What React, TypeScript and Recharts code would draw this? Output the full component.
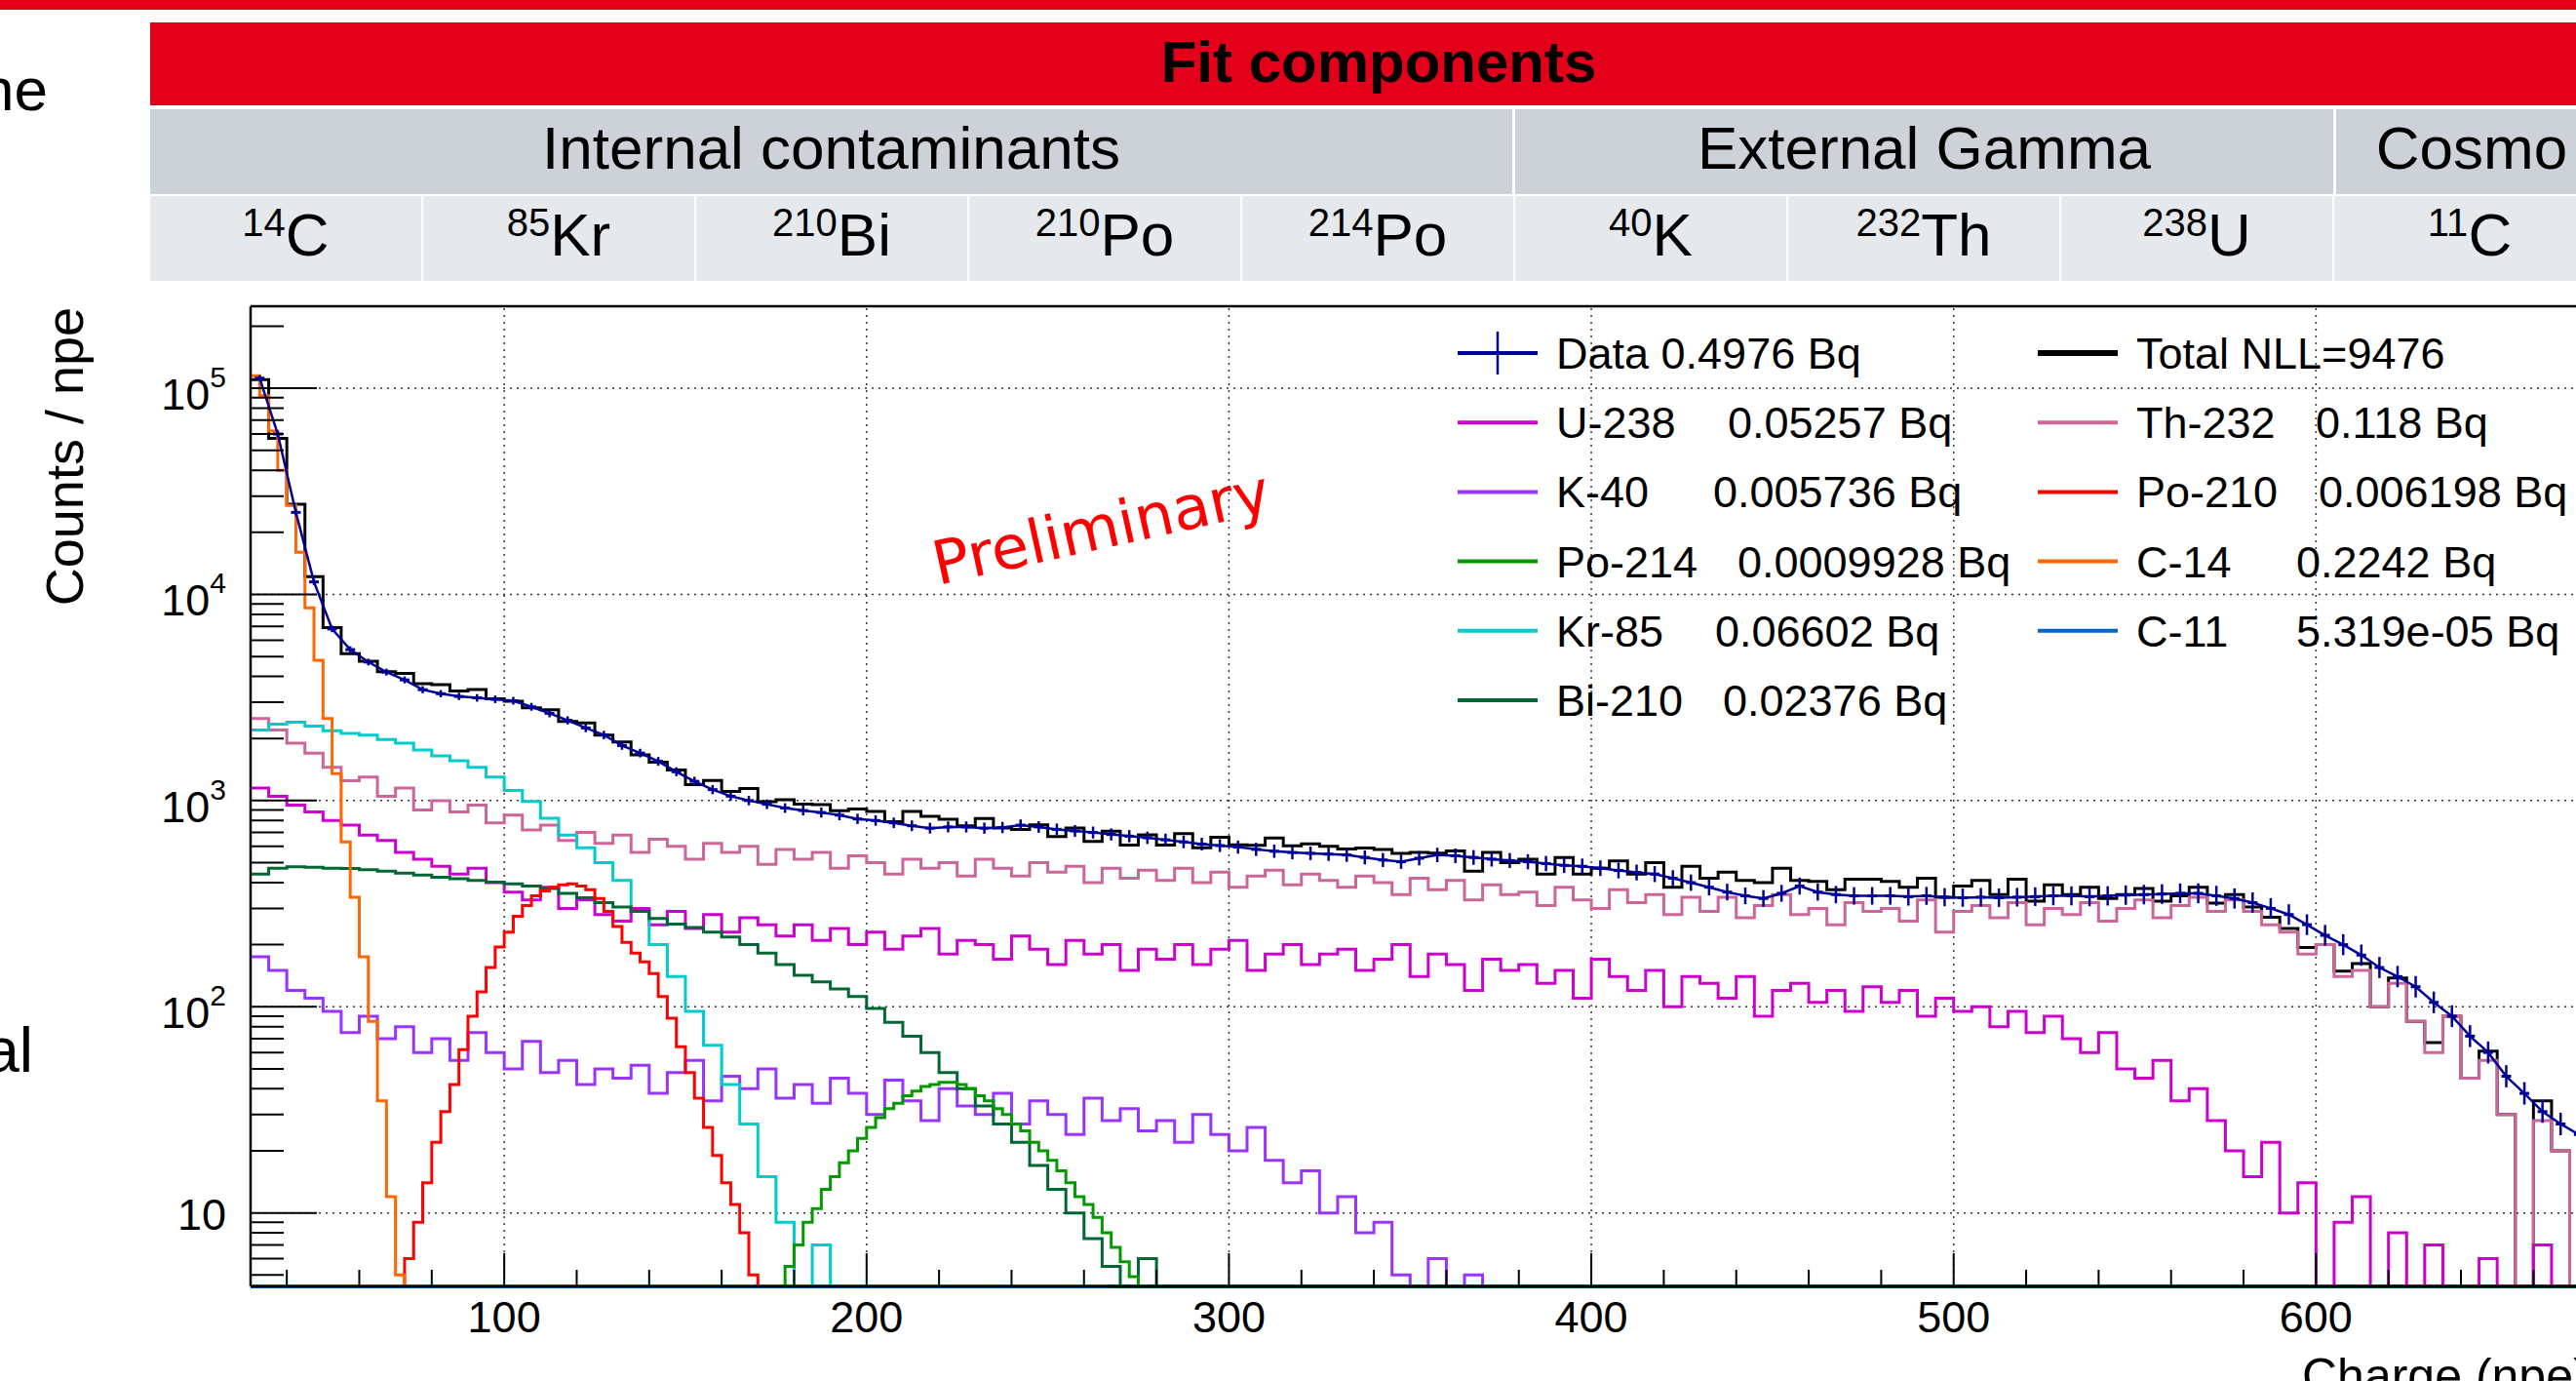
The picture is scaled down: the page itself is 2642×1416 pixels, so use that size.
import React from 'react';
import {
  ComposedChart,
  Line,
  XAxis,
  YAxis,
  ReferenceLine,
  Legend,
  Customized,
} from 'recharts';

const FONT = '"Liberation Sans", Arial, Helvetica, sans-serif';
const RED = '#E3001B';

// axis ranges: charge in npe (x), counts / npe on a log scale (y)
const X_MIN = 30;
const X_MAX = 700;
const Y_MIN = 4.4;
const Y_MAX = 250000;
const BIN = 5;
const FINE_BIN = 2.5;
const EMPTY = 0.5; // empty bins fall below the frame, like ROOT does on log y

const xGrid = [100, 200, 300, 400, 500, 600];
const yGrid = [10, 100, 1000, 10000, 100000];
const xTicks = [
  40, 60, 80, 100, 120, 140, 160, 180, 200, 220, 240, 260, 280, 300, 320, 340, 360,
  380, 400, 420, 440, 460, 480, 500, 520, 540, 560, 580, 600, 620, 640, 660, 680, 700,
];
const yTicks = [
  5, 6, 7, 8, 9, 10, 20, 30, 40, 50, 60, 70, 80, 90, 100, 200, 300, 400, 500, 600, 700,
  800, 900, 1000, 2000, 3000, 4000, 5000, 6000, 7000, 8000, 9000, 10000, 20000, 30000,
  40000, 50000, 60000, 70000, 80000, 90000, 100000, 200000,
];
const yExponent: Record<number, string> = { 100: '2', 1000: '3', 10000: '4', 100000: '5' };

// 5 npe bins starting at 30 npe
const dataCounts = [
  112000, 60000, 25000, 11500, 6800, 5400, 4700, 4200, 3850, 3450,
  3300, 3200, 3150, 3100, 3050, 2850, 2650, 2450, 2250, 2080,
  1850, 1700, 1550, 1380, 1240, 1130, 1050, 1000, 960, 920,
  895, 875, 850, 815, 800, 780, 755, 735, 745, 745,
  735, 740, 760, 745, 725, 712, 700, 685, 672, 660,
  645, 630, 615, 605, 595, 580, 568, 560, 555, 550,
  545, 530, 515, 505, 525, 545, 540, 530, 520, 512,
  505, 495, 485, 480, 470, 458, 448, 440, 420, 400,
  380, 360, 345, 335, 355, 385, 360, 350, 345, 345,
  345, 342, 345, 340, 338, 340, 338, 340, 342, 345,
  345, 342, 345, 348, 350, 352, 355, 355, 345, 335,
  320, 300, 280, 250, 222, 200, 178, 155, 140, 125,
  105, 90, 72, 60, 46, 38, 31, 27, 24, 20,
  16, 13, 10, 8,
];

const totalCounts = [
  110000, 57200, 27400, 12200, 6900, 5160, 4740, 4220, 4140, 3690,
  3650, 3400, 3460, 3120, 3030, 2820, 2760, 2420, 2380, 2080,
  1925, 1666, 1534, 1406, 1194, 1252, 1108, 1143, 987, 1010,
  962, 955, 893, 911, 885, 791, 885, 839, 811, 754,
  819, 736, 725, 763, 670, 737, 633, 710, 609, 682,
  608, 692, 590, 664, 610, 606, 658, 604, 616, 600,
  582, 588, 579, 555, 560, 556, 570, 455, 560, 500,
  520, 440, 530, 440, 470, 510, 440, 500, 380, 480,
  420, 450, 410, 400, 470, 410, 405, 370, 415, 415,
  405, 380, 420, 340, 385, 410, 350, 415, 325, 390,
  350, 380, 335, 350, 375, 325, 345, 380, 318, 350,
  305, 272, 240, 194, 200, 149, 162, 100, 138, 85,
  67, 90, 45, 61, 30, 2, 35, 20, 2, 14,
  10, 4, 8, 6,
];

const th232Counts = [
  2500, 2200, 1900, 1700, 1450, 1250, 1300, 1050, 1150, 900,
  1000, 880, 950, 780, 850, 720, 760, 640, 700, 620,
  680, 560, 650, 600, 520, 620, 560, 600, 490, 580,
  520, 560, 470, 540, 500, 440, 520, 470, 500, 430,
  520, 470, 430, 500, 450, 480, 400, 470, 420, 460,
  410, 470, 400, 450, 380, 430, 460, 390, 440, 410,
  380, 430, 400, 350, 420, 370, 410, 330, 390, 350,
  360, 310, 380, 330, 300, 370, 320, 350, 280, 340,
  290, 340, 270, 310, 350, 280, 300, 250, 320, 290,
  300, 260, 330, 230, 290, 310, 270, 320, 250, 300,
  280, 320, 260, 300, 330, 270, 310, 340, 290, 330,
  290, 250, 230, 180, 200, 140, 150, 100, 130, 85,
  60, 90, 45, 55, 30, 0, 28, 20, 0, 14,
  10, 4, 8, 6,
];

const u238Counts = [
  1150, 1050, 950, 880, 800, 760, 680, 640, 560, 520,
  480, 440, 470, 400, 360, 330, 380, 300, 330, 280,
  260, 300, 250, 290, 240, 280, 230, 270, 250, 220,
  250, 210, 240, 200, 230, 190, 220, 240, 180, 210,
  200, 170, 220, 190, 160, 210, 180, 200, 150, 190,
  170, 200, 160, 190, 210, 150, 180, 200, 160, 180,
  190, 150, 170, 200, 140, 180, 160, 120, 170, 150,
  160, 130, 150, 110, 170, 140, 120, 150, 100, 140,
  130, 110, 140, 90, 120, 130, 105, 120, 95, 125,
  105, 120, 90, 110, 95, 100, 80, 95, 75, 90,
  70, 60, 75, 50, 45, 55, 35, 40, 28, 20,
  15, 22, 10, 14, 0, 9, 12, 0, 8, 0,
  7, 0, 0, 6, 0, 0, 7, 0, 0, 0,
  0, 0, 0, 0,
];

const k40Counts = [
  175, 150, 120, 110, 95, 75, 90, 70, 80, 60,
  70, 55, 75, 60, 50, 68, 48, 55, 42, 50,
  45, 52, 38, 48, 55, 35, 46, 40, 50, 36,
  42, 34, 45, 38, 30, 44, 35, 28, 40, 33,
  30, 38, 27, 35, 30, 24, 36, 28, 32, 25,
  28, 22, 30, 24, 20, 26, 18, 14, 16, 10,
  12, 8, 9, 5, 0, 6, 0, 5, 0, 0,
];

const kr85Counts = [
  2200, 2350, 2400, 2300, 2180, 2120, 2080, 1980, 1900, 1760,
  1650, 1560, 1450, 1300, 1120, 990, 820, 680, 590, 500,
  410, 290, 200, 140, 95, 65, 42, 27, 15, 9,
  0, 7, 0,
];

const bi210Counts = [
  440, 470, 478, 475, 470, 468, 462, 455, 445, 435,
  425, 418, 410, 402, 395, 385, 375, 355, 338, 320,
  305, 290, 268, 252, 242, 230, 218, 200, 182, 160,
  142, 132, 122, 112, 98, 84, 72, 60, 48, 40,
  33, 27, 22, 17, 13, 10, 7.5, 5.5, 0, 6,
  0,
];

// 2.5 npe bins
const c14Counts = [
  115000, 92000, 62000, 40000, 27000, 16000, 8600, 4800, 2500, 1350,
  630, 340, 175, 85, 35, 12, 5, 0,
];
const po210Counts = [
  2, 6, 9, 14, 22, 31, 42, 62, 90, 118,
  155, 195, 230, 275, 310, 345, 365, 380, 390, 395,
  385, 370, 335, 290, 245, 205, 182, 165, 145, 112,
  88, 64, 48, 36, 26, 19, 14, 11, 8, 5, 0,
];
const po214Counts = [
  0, 5.5, 7, 9, 10.5, 13, 15, 17.5, 20, 23,
  26, 29, 32, 34, 37, 39, 41, 42, 43, 43,
  42, 40, 37, 35, 32, 30, 27, 25, 22, 20,
  18, 16, 14, 12, 11, 9.5, 8, 6.8, 5.8, 4.9, 0,
];

const legendLabels = ['Data 0.4976 Bq', 'Total NLL=9476', 'U-238', 'Th-232', 'K-40', 'Po-210', 'Po-214', 'C-14', 'Kr-85', 'C-11', 'Bi-210'];
const legendValues = ['', '', '0.05257 Bq', '0.118 Bq', '0.005736 Bq', '0.006198 Bq', '0.0009928 Bq', '0.2242 Bq', '0.06602 Bq', '5.319e-05 Bq', '0.02376 Bq'];
const legendColors = ['#000099', '#000000', '#CC00CC', '#CC6699', '#9933FF', '#FF0000', '#009900', '#FF6600', '#00CCCC', '#0066CC', '#006633'];
const legendValueX = [0, 0, 292, 895, 277, 898, 302, 875, 279, 875, 287];

const groupNames = ['Internal contaminants', 'External Gamma', 'Cosmo'];
const nuclideMass = ['14', '85', '210', '210', '214', '40', '232', '238', '11'];
const nuclideSymbol = ['C', 'Kr', 'Bi', 'Po', 'Po', 'K', 'Th', 'U', 'C'];

const toHist = (start: number, width: number, counts: number[]) => {
  const pts = counts.map((c, i) => ({ x: start + i * width, y: c > 0 ? c : EMPTY }));
  pts.push({ x: start + counts.length * width, y: pts[pts.length - 1].y });
  return pts;
};

const dataPoints = dataCounts.map((c, i) => ({ x: X_MIN + (i + 0.5) * BIN, y: c }));

const templates = [
  { name: 'Total', color: '#000000', data: toHist(X_MIN, BIN, totalCounts) },
  { name: 'Th-232', color: '#CC6699', data: toHist(X_MIN, BIN, th232Counts) },
  { name: 'U-238', color: '#CC00CC', data: toHist(X_MIN, BIN, u238Counts) },
  { name: 'K-40', color: '#9933FF', data: toHist(X_MIN, BIN, k40Counts) },
  { name: 'Kr-85', color: '#00CCCC', data: toHist(X_MIN, BIN, kr85Counts) },
  { name: 'Bi-210', color: '#006633', data: toHist(X_MIN, BIN, bi210Counts) },
  { name: 'Po-210', color: '#FF0000', data: toHist(70, FINE_BIN, po210Counts) },
  { name: 'Po-214', color: '#009900', data: toHist(175, FINE_BIN, po214Counts) },
  { name: 'C-14', color: '#FF6600', data: toHist(X_MIN, FINE_BIN, c14Counts) },
];

const XTick = (props: any) => {
  const { x, y, payload } = props;
  const v = payload.value;
  const major = v % 100 === 0;
  return (
    <g>
      <line x1={x} x2={x} y1={y} y2={y - (major ? 34 : 17)} stroke="#000" strokeWidth={2} />
      {major && (
        <text x={x} y={y + 47} textAnchor="middle" fontSize={45} fontFamily={FONT} fill="#000">
          {v}
        </text>
      )}
    </g>
  );
};

const YTick = (props: any) => {
  const { x, y, payload } = props;
  const v = payload.value;
  const major = yGrid.includes(v);
  const exp = yExponent[v];
  return (
    <g>
      <line x1={x} x2={x + (major ? 68 : 34)} y1={y} y2={y} stroke="#000" strokeWidth={2} />
      {major && (
        <text x={x - 25} y={y + (exp ? 22 : 17)} textAnchor="end" fontSize={45} fontFamily={FONT} fill="#000">
          10
          {exp && (
            <tspan fontSize={30} dy={-23}>
              {exp}
            </tspan>
          )}
        </text>
      )}
    </g>
  );
};

const DataPoint = (props: any) => {
  const { cx, cy, payload, index } = props;
  if (cx == null || cy == null) return <g key={`dp-${index}`} />;
  const e = 3 + (9 * (payload.x - X_MIN)) / (X_MAX - X_MIN);
  return (
    <g key={`dp-${index}`}>
      <line x1={cx - 5} x2={cx + 5} y1={cy} y2={cy} stroke="#000099" strokeWidth={3} />
      <line x1={cx} x2={cx} y1={cy - e} y2={cy + e} stroke="#000099" strokeWidth={2.5} />
    </g>
  );
};

const FitLegend = () => (
  <svg width={1200} height={430} style={{ display: 'block' }}>
    {legendLabels.map((label, i) => {
      const col = i % 2;
      const cy = 42 + Math.floor(i / 2) * 71.2;
      const x0 = col === 0 ? 15 : 610;
      return (
        <g key={label}>
          <line x1={x0} x2={x0 + 82} y1={cy} y2={cy} stroke={legendColors[i]} strokeWidth={i === 1 ? 6 : 4} />
          {i === 0 && <line x1={x0 + 41} x2={x0 + 41} y1={cy - 22} y2={cy + 22} stroke={legendColors[i]} strokeWidth={2.5} />}
          <text x={x0 + 101} y={cy + 16} fontSize={45} fontFamily={FONT} fill="#000">
            {label}
          </text>
          {legendValues[i] && (
            <text x={legendValueX[i]} y={cy + 16} fontSize={45} fontFamily={FONT} fill="#000">
              {legendValues[i]}
            </text>
          )}
        </g>
      );
    })}
  </svg>
);

const Preliminary = () => (
  <text
    x={962}
    y={600}
    transform="rotate(-12.5 962 600)"
    fontSize={62}
    fontFamily='"DejaVu Sans", Verdana, sans-serif'
    fill="#FF0000"
    textLength={352}
    lengthAdjust="spacingAndGlyphs"
  >
    Preliminary
  </text>
);

const SlideFrame = () => (
  <svg width={2642} height={1416} style={{ position: 'absolute', left: 0, top: 0 }}>
    <rect x={0} y={0} width={2642} height={10} fill={RED} />
    <text x={49} y={113} textAnchor="end" fontSize={62} fontFamily={FONT}>ne</text>
    <text x={34} y={1099} textAnchor="end" fontSize={64} fontFamily={FONT}>al</text>
    <rect x={154} y={23} width={2520} height={85} fill={RED} />
    <text x={1414} y={84} textAnchor="middle" fontSize={60} fontWeight={700} fontFamily={FONT}>
      Fit components
    </text>
    {[
      [154, 1397],
      [1554, 839],
      [2396, 278],
    ].map(([x, w], i) => (
      <g key={groupNames[i]}>
        <rect x={x} y={112} width={w} height={87} fill="#CDD1D8" />
        <text x={x + w / 2} y={173} textAnchor="middle" fontSize={62} fontFamily={FONT}>
          {groupNames[i]}
        </text>
      </g>
    ))}
    {nuclideSymbol.map((sym, i) => {
      const x = 154 + i * 280;
      return (
        <g key={`${nuclideMass[i]}${sym}${i}`}>
          <rect x={x} y={201} width={278} height={87} fill="#E6E9EC" />
          <text x={x + 139} y={262} textAnchor="middle" fontSize={62} fontFamily={FONT}>
            <tspan fontSize={40} dy={-20}>
              {nuclideMass[i]}
            </tspan>
            <tspan dy={20}>{sym}</tspan>
          </text>
        </g>
      );
    })}
  </svg>
);

export default function App() {
  return (
    <div
      style={{
        position: 'fixed',
        left: 0,
        top: 0,
        width: 2642,
        height: 1416,
        overflow: 'hidden',
        background: '#fff',
      }}
    >
      <SlideFrame />
      <div style={{ position: 'absolute', left: 0, top: 0 }}>
        <ComposedChart width={2800} height={1416} margin={{ top: 314, right: 53, bottom: 37, left: 137 }}>
          <XAxis
            type="number"
            dataKey="x"
            domain={[X_MIN, X_MAX]}
            allowDataOverflow
            ticks={xTicks}
            interval={0}
            tickSize={0}
            tickMargin={0}
            tickLine={false}
            tick={XTick}
            height={60}
            axisLine={{ stroke: '#000', strokeWidth: 2.5 }}
            label={() => (
              <text x={2361} y={1428} fontSize={50} fontFamily={FONT} fill="#000">
                Charge (npe)
              </text>
            )}
          />
          <YAxis
            type="number"
            scale="log"
            domain={[Y_MIN, Y_MAX]}
            allowDataOverflow
            ticks={yTicks}
            interval={0}
            tickSize={0}
            tickMargin={0}
            tickLine={false}
            tick={YTick}
            width={120}
            axisLine={{ stroke: '#000', strokeWidth: 2.5 }}
            label={() => (
              <text x={85} y={315} transform="rotate(-90 85 315)" textAnchor="end" fontSize={54} fontFamily={FONT} fill="#000">
                Counts / npe
              </text>
            )}
          />
          {xGrid.map((v) => (
            <ReferenceLine key={`gx${v}`} x={v} stroke="#333" strokeWidth={1.5} strokeDasharray="2 5" />
          ))}
          {yGrid.map((v) => (
            <ReferenceLine key={`gy${v}`} y={v} stroke="#333" strokeWidth={1.5} strokeDasharray="2 5" />
          ))}
          <ReferenceLine y={Y_MAX} stroke="#000" strokeWidth={2.5} />
          {templates.map((t) => (
            <Line
              key={t.name}
              data={t.data}
              dataKey="y"
              name={t.name}
              type="stepAfter"
              stroke={t.color}
              strokeWidth={3}
              dot={false}
              activeDot={false}
              isAnimationActive={false}
            />
          ))}
          <ReferenceLine y={Y_MIN} stroke="#0066CC" strokeWidth={4} />
          <ReferenceLine
            segment={[
              { x: 267, y: Y_MIN },
              { x: X_MAX, y: Y_MIN },
            ]}
            stroke="#006633"
            strokeWidth={4}
          />
          <Line
            data={dataPoints}
            dataKey="y"
            name="Data"
            type="linear"
            stroke="#000099"
            strokeWidth={2.5}
            dot={DataPoint}
            activeDot={false}
            isAnimationActive={false}
          />
          <Customized component={Preliminary} />
          <Legend
            layout="horizontal"
            verticalAlign="middle"
            align="center"
            content={FitLegend}
            wrapperStyle={{ left: 1480, top: 320, width: 1200, height: 430 }}
          />
        </ComposedChart>
      </div>
    </div>
  );
}
